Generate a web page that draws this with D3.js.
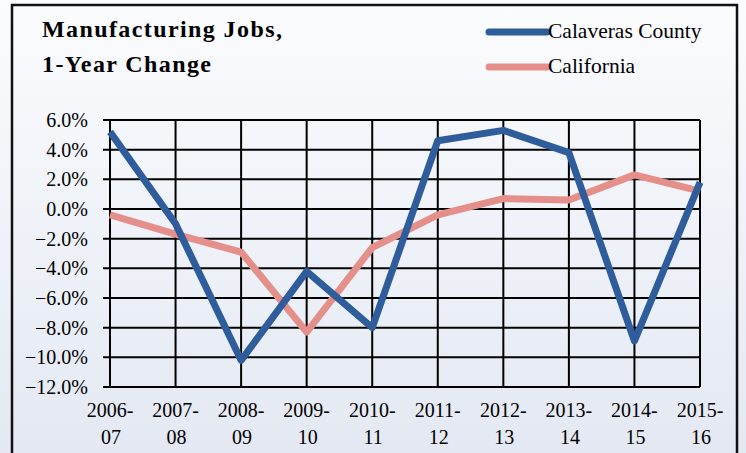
<!DOCTYPE html>
<html><head><meta charset="utf-8">
<script src="https://cdn.jsdelivr.net/npm/d3@7"></script>
<style>body{margin:0;padding:0;overflow:hidden;background:#fff} text{font-family:"Liberation Serif", serif;}</style>
</head><body>
<svg id="chart" width="746" height="453"></svg>
<script>
const periods = ["2006-07","2007-08","2008-09","2009-10","2010-11","2011-12","2012-13","2013-14","2014-15","2015-16"];
const calaveras = [5.2, -1.0, -10.2, -4.2, -8.0, 4.6, 5.3, 3.8, -8.9, 1.8];
const california = [-0.4, -1.7, -2.9, -8.3, -2.6, -0.4, 0.7, 0.6, 2.3, 1.2];
const yTicks = [6, 4, 2, 0, -2, -4, -6, -8, -10, -12];
const seriesNames = ["Calaveras County", "California"];
const titleLines = ["Manufacturing Jobs,", "1-Year Change"];

const svg = d3.select("#chart");
const W = 746, H = 453;
const defs = svg.append("defs");
const grad = defs.append("linearGradient").attr("id","bg").attr("x1",0).attr("y1",0).attr("x2",0).attr("y2",1);
grad.append("stop").attr("offset","0%").attr("stop-color","#fbfcfe");
grad.append("stop").attr("offset","100%").attr("stop-color","#e3e8f2");
svg.append("rect").attr("width",W).attr("height",H).attr("fill","url(#bg)");
svg.append("rect").attr("x",12).attr("y",5).attr("width",725).attr("height",460)
  .attr("fill","none").attr("stroke","#111").attr("stroke-width",2.5);

const m = {left:110, right:700, top:120, bottom:387};
const x = d3.scalePoint().domain(periods).range([m.left, m.right]);
const y = d3.scaleLinear().domain([-12, 6]).range([m.bottom, m.top]);

// horizontal grid
svg.append("g").selectAll("line").data(yTicks).join("line")
  .attr("x1", m.left-7).attr("x2", m.right).attr("y1", d=>y(d)).attr("y2", d=>y(d))
  .attr("stroke","#000").attr("stroke-width",2);
// vertical grid
svg.append("g").selectAll("line").data(periods).join("line")
  .attr("x1", d=>x(d)).attr("x2", d=>x(d)).attr("y1", m.top).attr("y2", m.bottom)
  .attr("stroke","#000").attr("stroke-width",2);

// y labels
svg.append("g").selectAll("text").data(yTicks).join("text")
  .attr("x", 88).attr("y", d=>y(d)).attr("dy","0.35em").attr("text-anchor","end")
  .attr("font-size",20).attr("fill","#000")
  .text(d=>d3.format(".1f")(d)+"%");

// x labels
const xl = svg.append("g").selectAll("text").data(periods).join("text")
  .attr("text-anchor","middle").attr("font-size",20).attr("fill","#000");
xl.append("tspan").attr("x", d=>x(d)).attr("y", 417).text(d=>d.split("-")[0]+"-");
xl.append("tspan").attr("x", d=>x(d)+1).attr("y", 444).text(d=>d.split("-")[1]);

const line = d3.line().x((d,i)=>x(periods[i])).y(d=>y(d));
const colors = ["#2f5c9a", "#e48f8a"];
const g = svg.append("g");
g.append("path").datum(california).attr("d", line).attr("fill","none")
  .attr("stroke", colors[1]).attr("stroke-width",7).attr("stroke-linejoin","round");
g.append("path").datum(calaveras).attr("d", line).attr("fill","none")
  .attr("stroke", colors[0]).attr("stroke-width",7).attr("stroke-linejoin","round");

// legend
const lg = svg.append("g");
seriesNames.forEach((n,i)=>{
  const yy = 32 + i*35;
  lg.append("line").attr("x1",489).attr("x2",547).attr("y1",yy).attr("y2",yy)
    .attr("stroke",colors[i]).attr("stroke-width",7).attr("stroke-linecap","round");
  lg.append("text").attr("x",548).attr("y",yy+6).attr("font-size",21.5)
    .attr("fill","#000").text(n);
});

// title
svg.append("g").selectAll("text").data(titleLines).join("text")
  .attr("x",42).attr("y",(d,i)=>37+i*35).attr("font-weight","bold")
  .attr("font-size",24).attr("letter-spacing",1.4).attr("fill","#000").text(d=>d);
</script>
</body></html>
